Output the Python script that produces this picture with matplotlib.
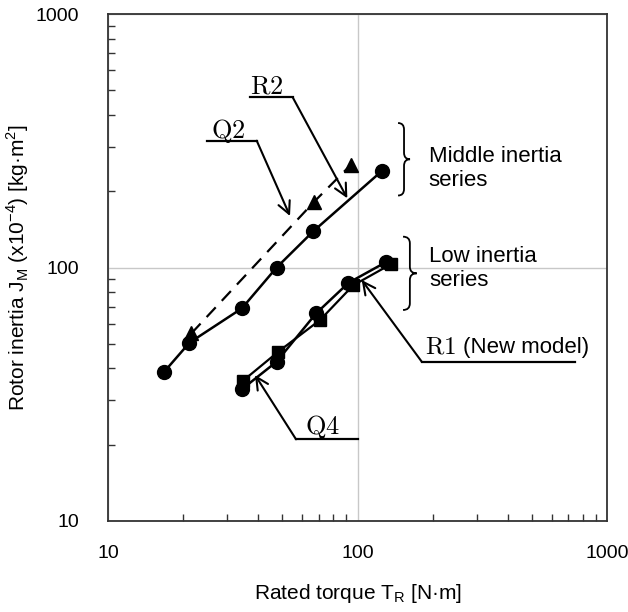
import matplotlib
matplotlib.use("Agg")
import matplotlib.pyplot as plt
from matplotlib.path import Path
from matplotlib.patches import PathPatch

plt.rcParams['font.family'] = ['Liberation Sans', 'DejaVu Sans']

# Middle inertia series
r2_torque = [16.8, 21.2, 34.4, 47.4, 66.5, 125]
r2_inertia = [38.8, 50.5, 69.0, 100, 139, 240]
q2_torque = [21.6, 67.1, 94]
q2_inertia = [55, 182, 254]

# Low inertia series
r1_torque = [34.4, 47.4, 68.2, 92, 130]
r1_inertia = [33.1, 42.5, 65.9, 87, 105]
q4_torque = [34.7, 48.2, 70.8, 96, 136]
q4_inertia = [35.7, 46.6, 62.1, 85, 103]


def brace(ax, x0, x1, ytop, ybot, lw=1.3):
    xm = (x0 + x1) / 2
    ym = (ytop + ybot) / 2
    d = (ytop - ybot) * 0.09
    verts = [(x0, ytop), (xm, ytop), (xm, ytop - d),
             (xm, ym + d),
             (xm, ym), (x1, ym),
             (xm, ym), (xm, ym - d),
             (xm, ybot + d),
             (xm, ybot), (x0, ybot)]
    codes = [Path.MOVETO, Path.CURVE3, Path.CURVE3,
             Path.LINETO,
             Path.CURVE3, Path.CURVE3,
             Path.CURVE3, Path.CURVE3,
             Path.LINETO,
             Path.CURVE3, Path.CURVE3]
    ax.add_patch(PathPatch(Path(verts, codes), transform=ax.transAxes,
                           fill=False, lw=lw, color='black', clip_on=False))


def callout(ax, label, tx, ty, ux0, ux1, uy, start, tip, size=19):
    ax.text(tx, ty, r'$\mathrm{%s}$' % label, transform=ax.transAxes,
            math_fontfamily='cm', fontsize=size, va='baseline', ha='left')
    ax.plot([ux0, ux1], [uy, uy], color='black', lw=1.6,
            transform=ax.transAxes, clip_on=False)
    sx = ux1 if start == 'right' else ux0
    ax.annotate('', xy=tip, xycoords='axes fraction', xytext=(sx, uy),
                textcoords='axes fraction',
                arrowprops=dict(arrowstyle='->', lw=1.5, color='black',
                                mutation_scale=22, shrinkA=0, shrinkB=0))


fig = plt.figure(figsize=(6.28, 6.12), dpi=100)
ax = fig.add_axes([0.172, 0.1487, 0.7946, 0.8284])

ax.plot(q2_torque, q2_inertia, color='black', lw=1.6, dashes=(6, 4),
        marker='^', markersize=10)
ax.plot(r2_torque, r2_inertia, color='black', lw=1.8, marker='o',
        markersize=10)
ax.plot(q4_torque, q4_inertia, color='black', lw=1.6, marker='s',
        markersize=9)
ax.plot(r1_torque, r1_inertia, color='black', lw=1.8, marker='o',
        markersize=10)

ax.set_xscale('log')
ax.set_yscale('log')
ax.set_xlim(10, 1000)
ax.set_ylim(10, 1000)
ax.set_xticks([10, 100, 1000])
ax.set_xticklabels(['10', '100', '1000'])
ax.set_yticks([10, 100, 1000])
ax.set_yticklabels(['10', '100', '1000'])

ax.grid(which='major', color='#c8c8c8', lw=1)
ax.set_axisbelow(True)
ax.tick_params(which='both', direction='in', top=False, right=False,
               color='#333333', width=1)
ax.tick_params(which='major', length=0, labelsize=14)
ax.tick_params(axis='x', which='major', pad=17)
ax.tick_params(axis='y', which='major', pad=21)
ax.tick_params(which='minor', length=5)
for s in ax.spines.values():
    s.set_color('#333333')
    s.set_linewidth(1.3)

ax.set_xlabel(r'Rated torque T$_\mathregular{R}$ [N·m]', fontsize=15,
              labelpad=15)
ax.set_ylabel(r'Rotor inertia J$_\mathregular{M}$ (x10$^\mathregular{-4}$) '
              r'[kg·m$^\mathregular{2}$]', fontsize=15, labelpad=3)

# callouts
callout(ax, 'R2', 0.2846, 0.8436, 0.2846, 0.3701, 0.8357, 'right',
        (0.4796, 0.6365))
callout(ax, 'Q2', 0.2058, 0.7548, 0.1978, 0.2980, 0.7501, 'right',
        (0.3647, 0.6016))
callout(ax, 'Q4', 0.3948, 0.1716, 0.3768, 0.5016, 0.1611, 'left',
        (0.2946, 0.2880))
callout(ax, 'R1', 0.6353, 0.3308, 0.6287, 0.9359, 0.3142, 'left',
        (0.5084, 0.4753), size=18)
ax.text(0.7114, 0.3308, '(New model)', transform=ax.transAxes,
        fontsize=16, va='baseline', ha='left')

brace(ax, 0.5812, 0.6052, 0.785, 0.642)
brace(ax, 0.5912, 0.6186, 0.5608, 0.4162)
ax.text(0.6423, 0.6953, 'Middle inertia\nseries', transform=ax.transAxes,
        fontsize=16, va='center', ha='left', linespacing=1.15)
ax.text(0.6439, 0.4984, 'Low inertia\nseries', transform=ax.transAxes,
        fontsize=16, va='center', ha='left', linespacing=1.15)

fig.savefig('out.png', dpi=100)
